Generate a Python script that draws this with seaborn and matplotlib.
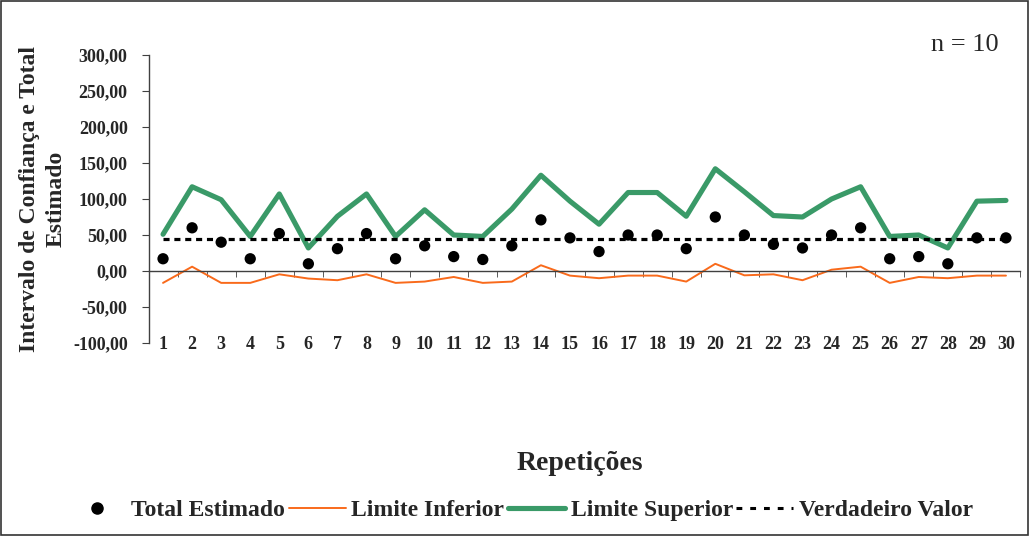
import matplotlib
matplotlib.use("Agg")
import matplotlib.pyplot as plt
import seaborn as sns
import pandas as pd
import numpy as np
from matplotlib.patches import Rectangle
from matplotlib.lines import Line2D
from matplotlib.ticker import FuncFormatter, FixedLocator

repeticoes = list(range(1, 31))
total_estimado = [17, 60, 40, 17, 52, 10, 31, 52, 17, 35,
                  20, 16, 35, 71, 46, 27, 50, 50, 31, 75,
                  50, 37, 32, 50, 60, 17, 20, 10, 46, 46]
limite_inferior = [-16.5, 6, -16.5, -16.5, -4.6, -10.5, -12.8, -4.6, -16.5, -14.7,
                   -8.3, -16.5, -14.7, 8, -6.4, -10, -6.4, -6.4, -14.7, 10,
                   -6, -4.6, -12.8, 1.8, 6, -16.5, -8.3, -10, -6.4, -6.4]
limite_superior = [51, 117, 99, 48, 107, 32, 76, 107, 48, 85,
                   50, 48, 86, 133, 97, 65, 109, 109, 76, 142,
                   110, 77, 75, 100, 117, 48, 50, 32, 97, 98]
verdadeiro_valor = 44
y_ticks = [-100, -50, 0, 50, 100, 150, 200, 250, 300]

df = pd.DataFrame({"rep": repeticoes, "total": total_estimado,
                   "inf": limite_inferior, "sup": limite_superior})

sns.set_style("white")
plt.rcParams['font.family'] = ['Liberation Serif', 'DejaVu Serif']

GREEN = "#3a9a68"
ORANGE = "#f96a1b"

fig = plt.figure(figsize=(10.29, 5.36), dpi=100)
ax = fig.add_axes([148.5/1029, 1-343/536, (1020.5-148.5)/1029, (343-55)/536])

sns.lineplot(data=df, x="rep", y="inf", ax=ax, color=ORANGE, linewidth=1.4)
sns.lineplot(data=df, x="rep", y="sup", ax=ax, color=GREEN, linewidth=3.7)
ax.plot([1, 30], [verdadeiro_valor, verdadeiro_valor], color="black",
        linestyle=(0, (1.9, 1.5)), linewidth=2.3, zorder=3)
sns.scatterplot(data=df, x="rep", y="total", ax=ax, color="black", s=66,
                edgecolor="none", zorder=4)

ax.set_xlim(0.5, 30.5)
ax.set_ylim(-100, 300)
ax.yaxis.set_major_locator(FixedLocator(y_ticks))
ax.yaxis.set_major_formatter(FuncFormatter(lambda v, p: f"{v:.2f}".replace(".", ",")))

for s in ["top", "right"]:
    ax.spines[s].set_visible(False)
ax.spines["left"].set_color("#404040")
ax.spines["left"].set_linewidth(1.0)
ax.spines["bottom"].set_position(("data", 0))
ax.spines["bottom"].set_color("#404040")
ax.spines["bottom"].set_linewidth(1.0)

ax.set_xticks(repeticoes)
ax.set_xticklabels([str(r) for r in repeticoes])
ax.set_xticks(np.arange(0.5, 31, 1), minor=True)
ax.tick_params(axis="x", which="major", length=0, pad=47, labelsize=13)
ax.tick_params(axis="x", which="minor", length=4, direction="out", color="#404040")
ax.tick_params(axis="y", length=5, direction="out", color="#404040", labelsize=13, pad=10)
ax.yaxis.set_ticks_position("left")
ax.xaxis.set_ticks_position("bottom")
for lab in ax.get_xticklabels() + ax.get_yticklabels():
    lab.set_fontweight("bold")

ax.set_xlabel("")
ax.set_ylabel("Intervalo de Confiança e Total\nEstimado", fontsize=17,
              fontweight="bold", linespacing=1.35)
ax.yaxis.set_label_coords(-0.094, 0.5)

fig.text(580/1029, 1-463/536, "Repetições", ha="center", va="center",
         fontsize=20, fontweight="bold")
fig.text(965/1029, 1-45/536, "n = 10", ha="center", va="center", fontsize=19)

handles = [
    Line2D([], [], marker="o", color="black", linestyle="none", markersize=8),
    Line2D([], [], color=ORANGE, linewidth=1.4),
    Line2D([], [], color=GREEN, linewidth=3.7),
    Line2D([], [], color="black", linestyle=(0, (1.9, 2.6)), linewidth=2.2),
]
labels = ["Total Estimado", "Limite Inferior", "Limite Superior", "Verdadeiro Valor"]
leg = fig.legend(handles, labels, loc="center", bbox_to_anchor=(521/1029, 1-510/536),
                 ncol=4, frameon=False, handlelength=2.4, handletextpad=0.25,
                 columnspacing=0.15, prop={"weight": "bold", "size": 17})

fig.patches.append(Rectangle((0.0008, 0.0012), 0.998, 0.997, transform=fig.transFigure,
                             fill=False, edgecolor="#333333", linewidth=1.2))

fig.savefig("out.png", dpi=100)
